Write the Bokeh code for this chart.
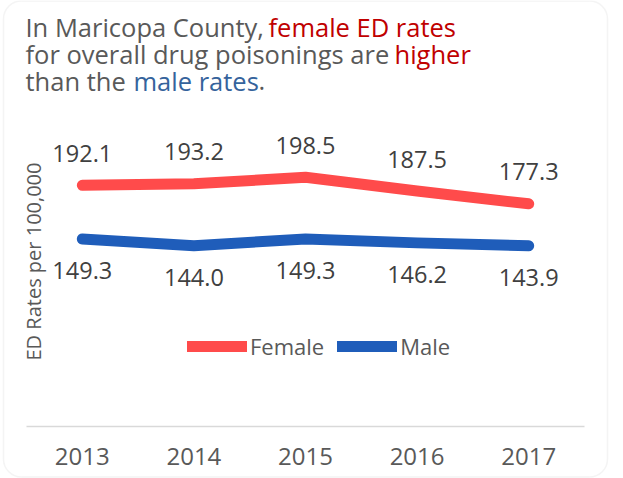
import math
from bokeh.plotting import figure
from bokeh.models import Range1d, Label, Legend, LegendItem, BoxAnnotation, FixedTicker
from bokeh.embed import file_html
from bokeh.resources import INLINE
from bokeh.core.properties import value

years = [2013, 2014, 2015, 2016, 2017]
female = [192.1, 193.2, 198.5, 187.5, 177.3]
male = [149.3, 144.0, 149.3, 146.2, 143.9]
female_labels = ["192.1", "193.2", "198.5", "187.5", "177.3"]
male_labels = ["149.3", "144.0", "149.3", "146.2", "143.9"]
y_title = "ED Rates per 100,000"

FONT = "Open Sans"
GRAY = "#595959"
DARK = "#404040"
RED_LINE = "#FF4B4B"
BLUE_LINE = "#1F5DBA"
RED_TXT = "#C00000"
BLUE_TXT = "#35639C"

W, H = 623, 478
X0, DX = 81.8, 111.6      # pixel of first year, pixels per year
Y0, DY = 426.0, 1.256     # pixel of value 0, pixels per unit

x_range = Range1d(years[0] - X0 / DX, years[0] + (W - X0) / DX)
y_range = Range1d(-(H - Y0) / DY, Y0 / DY)

p = figure(width=W, height=H, x_range=x_range, y_range=y_range,
           output_backend="svg", toolbar_location=None,
           min_border_left=0, min_border_right=0, min_border_top=0, min_border_bottom=0)
p.outline_line_color = None
p.background_fill_color = "white"
p.border_fill_color = "white"
p.xgrid.visible = False
p.ygrid.visible = False
p.yaxis.visible = False

ax = p.xaxis[0]
ax.fixed_location = 0
ax.bounds = (years[0] - 0.5, years[-1] + 0.5)
ax.ticker = FixedTicker(ticks=years)
ax.axis_line_color = "#D9D9D9"
ax.axis_line_width = 1.5
ax.major_tick_line_color = None
ax.minor_tick_line_color = None
ax.major_label_text_font = FONT
ax.major_label_text_font_size = "24px"
ax.major_label_text_color = GRAY
ax.major_label_standoff = 15

rf = p.line(years, female, line_width=11, line_color=RED_LINE, line_cap="round", line_join="round")
rm = p.line(years, male, line_width=11, line_color=BLUE_LINE, line_cap="round", line_join="round")

p.text(x=years, y=female, text=female_labels, text_align="center", text_baseline="alphabetic",
       y_offset=-32, text_font=value(FONT), text_font_size="23.5px", text_color=DARK)
p.text(x=years, y=male, text=male_labels, text_align="center", text_baseline="alphabetic",
       y_offset=32, text_font=value(FONT), text_font_size="23.5px", text_color=DARK)

legend = Legend(items=[LegendItem(label="Female", renderers=[rf]),
                       LegendItem(label="Male", renderers=[rm])],
                orientation="horizontal", location=(187, H - 361),
                glyph_width=60, glyph_height=20, label_standoff=3, spacing=13,
                padding=0, margin=0, border_line_color=None, background_fill_alpha=0,
                label_text_font=FONT, label_text_font_size="22px", label_text_color=GRAY)
p.add_layout(legend, "center")

BASE_FIX = 9  # alphabetic baseline lands this many px low

def lab(text, px, py, color, size="25.5px", **kw):
    p.add_layout(Label(x=px, y=H - (py - BASE_FIX), x_units="screen", y_units="screen",
                       text=text, text_font=FONT, text_font_size=size, text_color=color,
                       text_baseline="alphabetic", **kw))

lab("In Maricopa County, ", 25, 35, GRAY)
lab("female ED rates", 268, 35, RED_TXT)
lab("for overall drug poisonings are ", 25, 62.5, GRAY)
lab("higher", 394, 62.5, RED_TXT)
lab("than the ", 25, 89, GRAY)
lab("male rates", 133, 89, BLUE_TXT)
lab(".", 258, 89, GRAY)

p.add_layout(Label(x=33, y=H - 261, x_units="screen", y_units="screen", text=y_title,
                   text_font=FONT, text_font_size="20px", text_color=GRAY,
                   text_baseline="alphabetic", text_align="center", angle=math.pi / 2))

p.add_layout(BoxAnnotation(left=3, right=607, top=H - 0.5, bottom=H - 476.5,
                           left_units="screen", right_units="screen", top_units="screen",
                           bottom_units="screen", fill_alpha=0, line_color="#D9D9D9",
                           line_width=1.5, border_radius=18))

open("out.html", "w").write(file_html(p, INLINE))
